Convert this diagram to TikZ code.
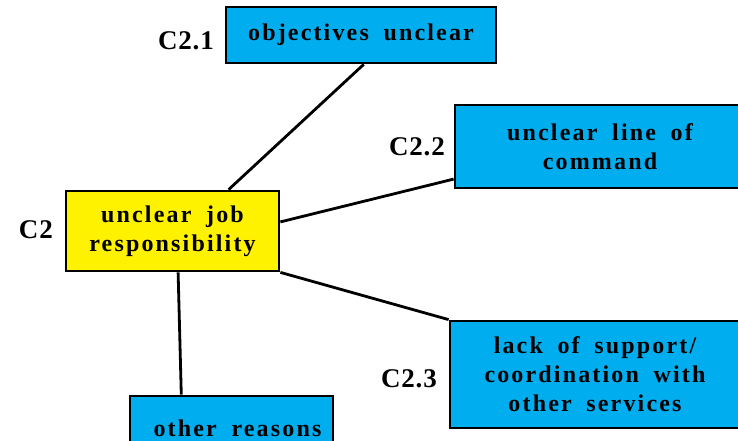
\documentclass[tikz,border=0pt]{standalone}
\usepackage{fontspec}
\usetikzlibrary{calc}
\setmainfont{Liberation Serif}
\newfontfamily\boxfont{Liberation Serif}[LetterSpace=9, WordSpace=1.8]
\newfontfamily\tagfont{Liberation Serif}[LetterSpace=3]
\definecolor{causeblue}{RGB}{0,174,239}
\definecolor{causeyellow}{RGB}{255,242,0}

\begin{document}
\begin{tikzpicture}[x=1pt,y=-1pt,
  cause/.style={draw=black, line width=2.8pt, fill=causeblue, inner sep=0pt,
    align=center, font=\boxfont\bfseries\fontsize{24}{29}\selectfont},
  root/.style={cause, fill=causeyellow},
  tag/.style={font=\tagfont\bfseries\fontsize{27}{30}\selectfont, inner sep=0pt},
  link/.style={line width=2.8pt}]
\clip (0,0) rectangle (738,441);

% cause boxes
\node[cause, minimum width=270pt, minimum height=56pt] (obj) at (361,35) {objectives unclear};
\node[cause, minimum width=290pt, minimum height=83pt] (cmd) at (600,146.5) {unclear line of\\command};
\node[root, minimum width=213pt, minimum height=80pt] (job) at (172.5,231) {unclear job\\responsibility};
\node[cause, minimum width=290pt, minimum height=107pt] (sup) at (595,374.5) {lack of support/\\coordination with\\other services};
\node[cause, minimum width=203pt, minimum height=64pt] (oth) at (231.5,428) {\hspace*{12pt}other reasons};

% codes
\node[tag, anchor=base east] (tobj) at (214,50) {C2.1};
\node[tag, anchor=base east] (tcmd) at (445,155) {C2.2};
\node[tag, anchor=base east] (tjob) at (53,238) {C2};
\node[tag, anchor=base east] (tsup) at (437,387) {C2.3};

% connectors
\draw[link] ($(job.north west)!0.76!(job.north east)$) -- ($(obj.south west)!0.51!(obj.south east)$);
\draw[link] ($(job.north east)!0.39!(job.south east)$) -- ($(cmd.north west)!0.88!(cmd.south west)$);
\draw[link] (job.south east) -- (sup.north west);
\draw[link] ($(job.south west)!0.526!(job.south east)$) -- ($(oth.north west)!0.256!(oth.north east)$);
\end{tikzpicture}
\end{document}
